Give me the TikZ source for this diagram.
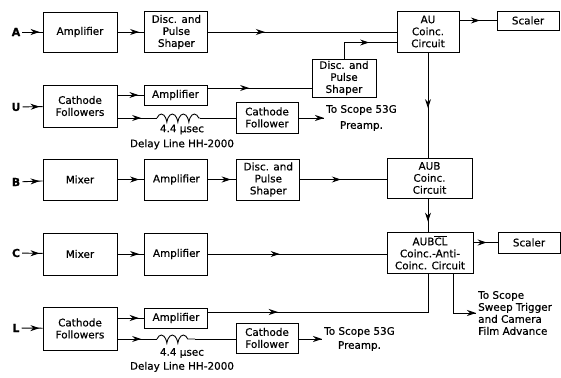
\documentclass[tikz,border=0pt]{standalone}
\usepackage{fontspec}
\setmainfont{DejaVu Sans}[FakeBold=0.5]
\usetikzlibrary{arrows.meta, positioning, decorations.markings, decorations.pathmorphing}
\tikzset{
    wire/.style={line width=0.9pt},
    blk/.style={draw=black, line width=0.9pt, align=center, font=\fontsize{10.4}{12}\selectfont,
                minimum width=63pt, minimum height=41pt, inner sep=2pt},
    arr/.style={wire, postaction={decorate},
                decoration={markings, mark=at position #1 with {\arrow{Stealth[length=9pt, width=6pt]}}}},
    arr/.default=0.5,
    lab/.style={font=\fontsize{10.4}{12}\selectfont, align=center, inner sep=2pt},
    inp/.style={font=\fontsize{11}{12}\selectfont\bfseries, inner sep=2pt},
    coil/.style={wire, decorate, decoration={coil, amplitude=4pt, segment length=11pt, aspect=0.4}},
}

\begin{document}
\begin{tikzpicture}[x=1pt, y=-1pt, node distance=27pt]
    \useasboundingbox (0,0) rectangle (561,377);
    % row A
    \node[inp] (ina) at (16,32) {A};
    \node[blk, minimum width=74pt, minimum height=40pt] (ampa) at (80,32) {Amplifier};
    \node[blk, right=of ampa] (disca) {Disc. and\\Pulse\\Shaper};
    \node[blk, minimum width=62pt] (au) at (428,31.5) {AU\\Coinc.\\Circuit};
    \node[blk, minimum width=62pt, minimum height=19pt] (scla) at (528,20.5) {Scaler};
    % row U
    \node[inp] (inu) at (16,107) {U};
    \node[blk, minimum width=74pt, minimum height=42pt] (cfu) at (80,106) {Cathode\\Followers};
    \node[blk, minimum height=20pt] (ampu) at (175.5,95) {Amplifier};
    \node[blk, minimum width=64pt, minimum height=38pt] (discu) at (344,78) {Disc. and\\Pulse\\Shaper};
    \node[blk, minimum width=62pt, minimum height=31pt] (cfdu) at (267,117.5) {Cathode\\Follower};
    \node[lab, anchor=west] (scpu) at (324,118) {To Scope 53G\\[4pt]Preamp.};
    \coordinate (dlu_a) at (157,118);
    \coordinate (dlu_b) at (200,118);
    \node[lab] (dlyu) at (182,137) {4.4 μsec\\[3pt]Delay Line HH-2000};
    % row B
    \node[inp] (inb) at (16,182) {B};
    \node[blk, minimum width=74pt] (mixb) at (80,179.5) {Mixer};
    \node[blk, right=of mixb] (ampb) {Amplifier};
    \node[blk, right=28pt of ampb] (discb) {Disc. and\\Pulse\\Shaper};
    \node[blk, minimum width=85pt, minimum height=40pt] (aub) at (429.5,178) {AUB\\Coinc.\\Circuit};
    % row C
    \node[inp] (inc) at (16,253) {C};
    \node[blk, minimum width=74pt, minimum height=42pt] (mixc) at (80,254) {Mixer};
    \node[blk, minimum height=42pt, right=of mixc] (ampc) {Amplifier};
    \node[blk, minimum width=86pt] (aubcl) at (430,252.5) {AUB\ensuremath{\overline{\mbox{CL}}}\\Coinc.-Anti-\\Coinc. Circuit};
    \node[blk, minimum width=62pt, minimum height=21pt] (sclc) at (529,242.5) {Scaler};
    % row L
    \node[inp] (inl) at (16,328) {L};
    \node[blk, minimum width=74pt, minimum height=43pt] (cfl) at (80,328.5) {Cathode\\Followers};
    \node[blk, minimum height=20pt] (ampl) at (176,318) {Amplifier};
    \node[blk, minimum width=62pt, minimum height=30pt] (cfdl) at (267,338) {Cathode\\Follower};
    \node[lab, anchor=west] (scpl) at (322,339) {To Scope 53G\\[2pt]Preamp.};
    \node[lab, align=left, anchor=west] (swp) at (476,313) {To Scope\\Sweep Trigger\\and Camera\\Film Advance};
    \coordinate (dll_a) at (157,339);
    \coordinate (dll_b) at (195,339);
    \node[lab] (dlyl) at (182,360) {4.4 μsec\\[2pt]Delay Line HH-2000};

    % connectors
    \draw[arr=0.85] (ina) -- (ampa);
    \draw[arr=0.8] (ampa) -- (disca);
    \draw[arr=0.3] (disca.east) -- (disca.east -| au.west);
    \draw[arr=0.55] (au.east |- scla) -- (scla.west);
    \draw[arr=0.85] (inu) -- (cfu);
    \draw[arr=0.8] (ampu.west -| cfu.east) -- (ampu.west);
    \draw[arr=0.4] ([yshift=7pt]ampu.east) -- ([yshift=7pt]ampu.east -| discu.west);
    \draw[arr=0.6] (discu.north) |- ([yshift=-11pt]au.west);
    \draw[arr=0.6] ([yshift=-12pt]cfu.east) -- (dlu_a);
    \draw[coil] (dlu_a) -- (dlu_b);
    \draw[wire] (dlu_b) -- (cfdu.west |- dlu_b);
    \draw[arr=1] (cfdu.east |- scpu) -- (scpu.west);
    \draw[arr=0.85] (inb) -- (mixb);
    \draw[arr=0.8] (mixb) -- (ampb);
    \draw[arr=0.8] (ampb) -- (discb);
    \draw[arr=0.47] (discb.east) -- (discb.east -| aub.west);
    \draw[arr=0.53] (au.south) -- (au.south |- aub.north);
    \draw[arr=0.7] (au.south |- aub.south) -- (au.south |- aubcl.north);
    \draw[arr=0.85] (inc) -- (mixc);
    \draw[arr=0.8] (mixc) -- (ampc);
    \draw[arr=0.4] (ampc.east) -- (ampc.east -| aubcl.west);
    \draw[arr=0.55] (aubcl.east |- sclc) -- (sclc.west);
    \draw[arr=0.85] (inl) -- (cfl);
    \draw[arr=0.8] (ampl.west -| cfl.east) -- (ampl.west);
    \draw[arr=0.27] ([yshift=6pt]ampl.east) -| (au.south |- aubcl.south);
    \draw[arr=0.6] ([yshift=-10.5pt]cfl.east) -- (dll_a);
    \draw[coil] (dll_a) -- (dll_b);
    \draw[wire] (dll_b) -- (cfdl.west |- dll_b);
    \draw[arr=1] (cfdl.east |- scpl) -- (scpl.west);
    \draw[arr=1] ([xshift=23pt]aubcl.south) |- (swp.west);
\end{tikzpicture}
\end{document}
